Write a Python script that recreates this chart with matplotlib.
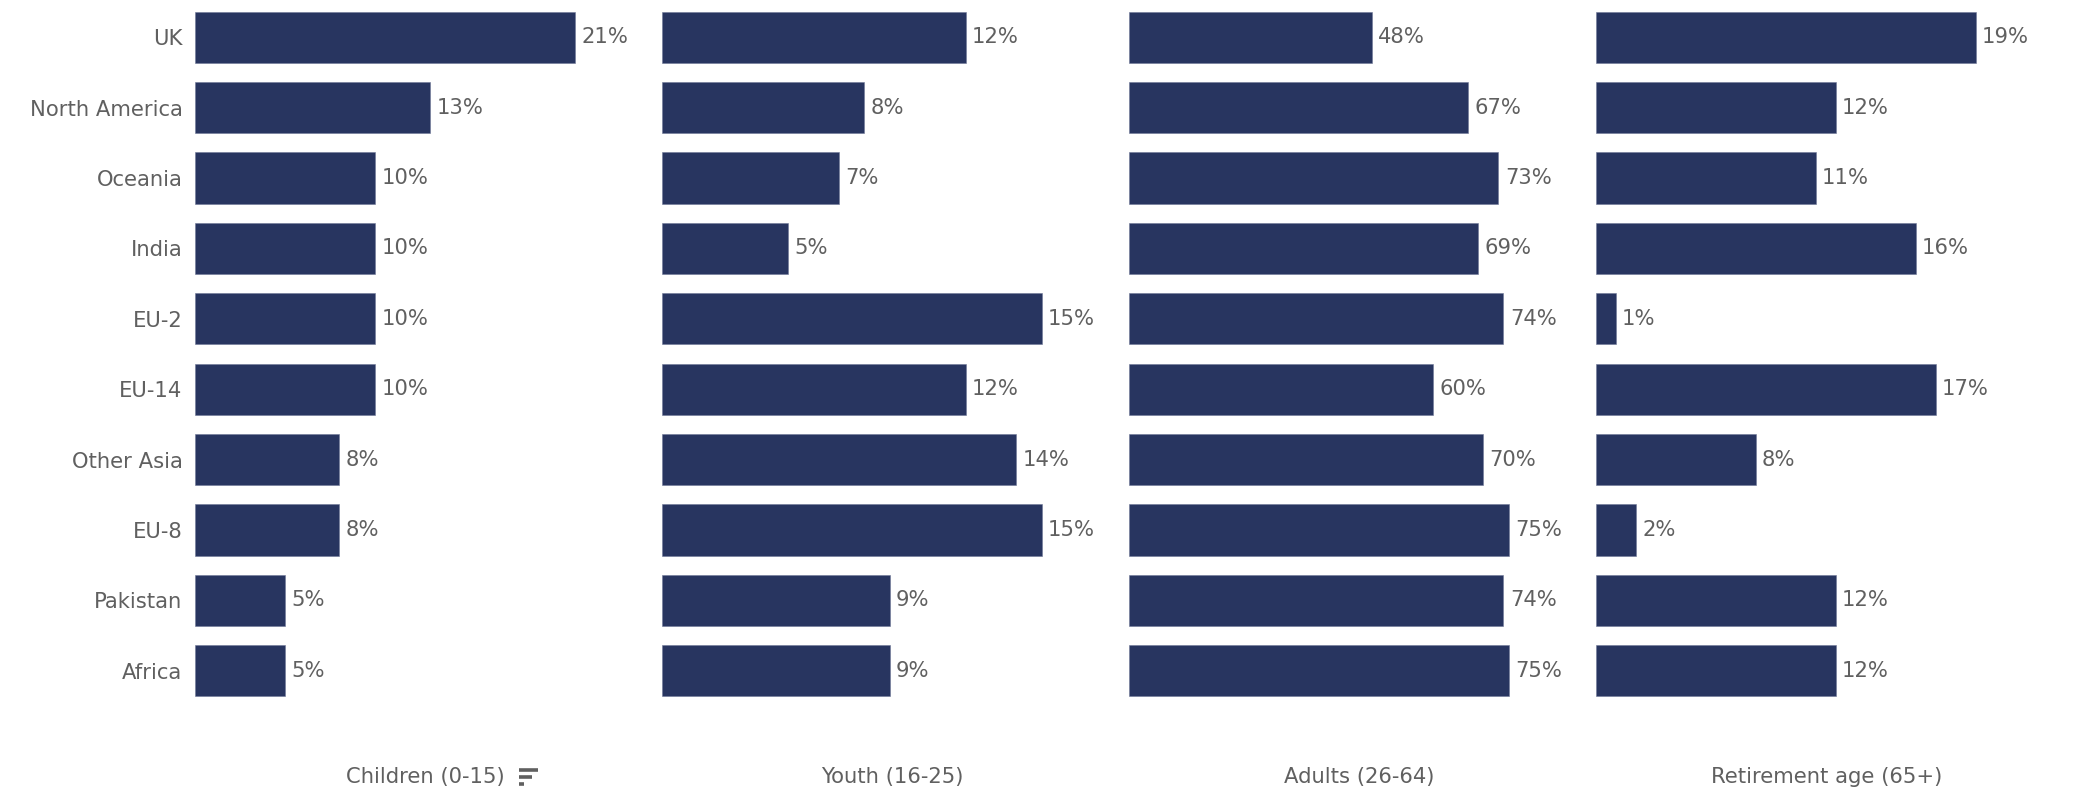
import matplotlib
matplotlib.use("Agg")
import matplotlib.pyplot as plt
from matplotlib.lines import Line2D

plt.rcParams['font.family'] = ['DejaVu Sans']

regions = ["UK", "North America", "Oceania", "India", "EU-2", "EU-14",
           "Other Asia", "EU-8", "Pakistan", "Africa"]
children = [21, 13, 10, 10, 10, 10, 8, 8, 5, 5]
youth = [12, 8, 7, 5, 15, 12, 14, 15, 9, 9]
adults = [48, 67, 73, 69, 74, 60, 70, 75, 74, 75]
retirement = [19, 12, 11, 16, 1, 17, 8, 2, 12, 12]
panel_titles = ["Children (0-15)", "Youth (16-25)", "Adults (26-64)", "Retirement age (65+)"]
series = [children, youth, adults, retirement]

W, H = 2075, 791
fig = plt.figure(figsize=(W / 100, H / 100), dpi=100)
fig.patch.set_facecolor("white")

bar_color = "#283560"
text_color = "#606060"
fs = 15.2

left0 = 194.5 / W
step = 467.0 / W
width = 462.0 / W
bottom = 1 - 706.0 / H
top = 1 - 2.0 / H

title_texts = []
for i, (vals, title) in enumerate(zip(series, panel_titles)):
    ax = fig.add_axes([left0 + i * step, bottom, width, top - bottom])
    y = list(range(len(regions)))
    ax.barh(y, vals, height=0.73, color=bar_color, edgecolor="#6f7896", linewidth=0.4)
    ax.set_ylim(len(regions) - 0.5, -0.5)
    ax.set_xlim(0, max(vals) * 462.0 / 380.0)
    for yy, v in zip(y, vals):
        ax.annotate(f"{v}%", (v, yy), xytext=(4.7, 0), textcoords="offset points",
                    ha="left", va="center", fontsize=fs, color=text_color)
    for s in ax.spines.values():
        s.set_visible(False)
    ax.set_xticks([])
    ax.set_yticks(y)
    if i == 0:
        ax.set_yticklabels(regions, fontsize=fs, color=text_color)
        ax.tick_params(axis="y", length=0, pad=8.6)
    else:
        ax.set_yticklabels([])
        ax.tick_params(axis="y", length=0)
    cx = left0 + i * step + width / 2
    t = fig.text(cx, 1 - 777.0 / H, title, ha="center", va="center",
                 fontsize=fs, color=text_color)
    title_texts.append(t)

# sort icon next to first title
fig.canvas.draw()
bb = title_texts[0].get_window_extent(fig.canvas.get_renderer())
x0 = bb.x1 + 14
yc = (bb.y0 + bb.y1) / 2
lens = [19, 13, 5]
for k, L in enumerate(lens):
    yy = yc + 7 - k * 7
    fig.add_artist(Line2D([x0 / W, (x0 + L) / W], [yy / H, yy / H],
                          transform=fig.transFigure, color=text_color,
                          linewidth=2.6, solid_capstyle="butt"))

fig.savefig("out.png", dpi=100, facecolor="white")
